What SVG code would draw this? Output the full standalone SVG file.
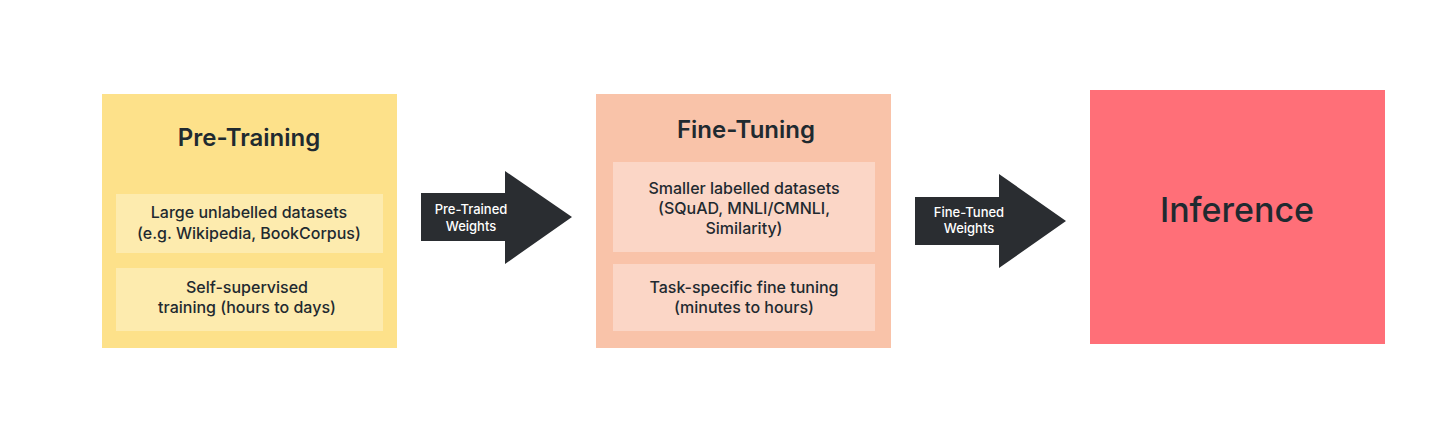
<svg xmlns="http://www.w3.org/2000/svg" width="1456" height="434" viewBox="0 0 1456 434">
<style>
text{font-family:Inter,"Liberation Sans",Arial,sans-serif;fill:#1f2a30;text-anchor:middle}
.title{font-size:24px;font-weight:600}
.body{font-size:16px;font-weight:500}
.lbl{font-size:13px;font-weight:500;fill:#ffffff}
.arrow{fill:#2a2d31}
</style>
<rect width="1456" height="434" fill="#ffffff"/>
<g id="pretraining">
<rect x="102" y="94" width="295" height="254" fill="#fde18a"/>
<text class="title" x="249" y="146">Pre-Training</text>
<rect x="116" y="194" width="267" height="59" fill="#fdebae"/>
<text class="body" x="249" y="218">Large unlabelled datasets</text>
<text class="body" x="249" y="239">(e.g. Wikipedia, BookCorpus)</text>
<rect x="116" y="268" width="267" height="63" fill="#fdebae"/>
<text class="body" x="247" y="293">Self-supervised</text>
<text class="body" x="247" y="313">training (hours to days)</text>
</g>
<g id="finetuning">
<rect x="596" y="94" width="295" height="254" fill="#f9c3a9"/>
<text class="title" x="746" y="138">Fine-Tuning</text>
<rect x="613" y="162" width="262" height="90" fill="#fbd6c6"/>
<text class="body" x="744" y="194">Smaller labelled datasets</text>
<text class="body" x="744" y="214">(SQuAD, MNLI/CMNLI,</text>
<text class="body" x="744" y="234">Similarity)</text>
<rect x="613" y="264" width="262" height="67" fill="#fbd6c6"/>
<text class="body" x="744" y="293">Task-specific fine tuning</text>
<text class="body" x="744" y="313">(minutes to hours)</text>
</g>
<g id="inference">
<rect x="1090" y="90" width="295" height="254" fill="#ff6f78"/>
<text x="1237" y="222" style="font-size:34px;font-weight:500">Inference</text>
</g>
<g id="connectors">
<polygon class="arrow" points="421,193 505,193 505,171 572,217 505,264 505,241 421,241"/>
<text class="lbl" x="471" y="214">Pre-Trained</text>
<text class="lbl" x="471" y="231">Weights</text>
<polygon class="arrow" points="915,197 999,197 999,174 1066,221 999,268 999,245 915,245"/>
<text class="lbl" x="969" y="217">Fine-Tuned</text>
<text class="lbl" x="969" y="233">Weights</text>
</g>
</svg>
